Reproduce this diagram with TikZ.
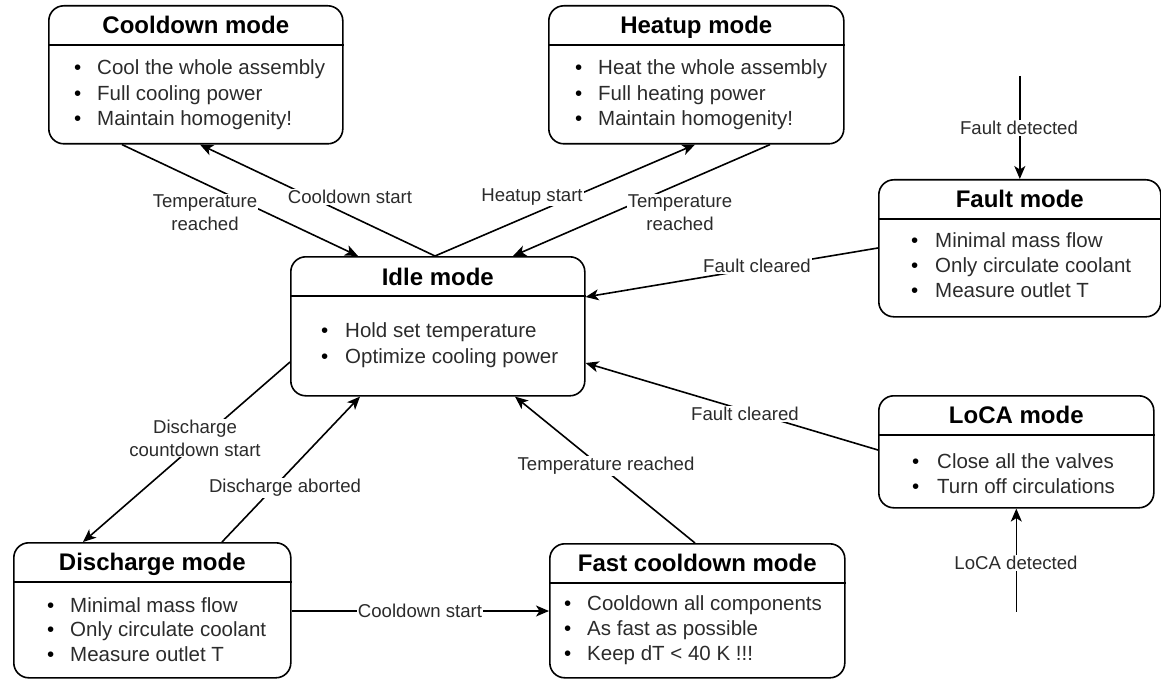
\documentclass[tikz,border=0pt]{standalone}
\usepackage{fontspec}
\setmainfont{Liberation Sans}
\usetikzlibrary{arrows.meta,calc}
\definecolor{txt}{HTML}{2B2B2B}
\begin{document}
\begin{tikzpicture}[x=1pt,y=-1pt,
  box/.style={draw, line width=1.6pt, rounded corners=15pt, inner sep=0pt, anchor=north west},
  hline/.style={line width=1.6pt},
  ttl/.style={anchor=base, inner sep=0pt, font=\fontsize{24pt}{28pt}\selectfont\bfseries},
  item/.style={anchor=base west, inner sep=0pt, text=txt, font=\fontsize{20.5pt}{24pt}\selectfont},
  lbl/.style={fill=white, inner sep=1pt, text=txt, align=center, font=\fontsize{18.6pt}{23pt}\selectfont},
  arr/.style={line width=1.6pt, -{Stealth[length=13pt,width=11pt,inset=3.5pt]}}]
\useasboundingbox (0,0) rectangle (1161,679);

% ---------- boxes ----------
\node[box, minimum width=294pt, minimum height=138pt] (cool) at (48,5) {};
\node[box, minimum width=295pt, minimum height=138pt] (heat) at (548,5) {};
\node[box, minimum width=294pt, minimum height=139pt] (idle) at (290,256) {};
\node[box, minimum width=282pt, minimum height=137pt] (fault) at (878,179) {};
\node[box, minimum width=275pt, minimum height=112pt] (loca) at (878,395) {};
\node[box, minimum width=277pt, minimum height=135pt] (disch) at (13,542) {};
\node[box, minimum width=295pt, minimum height=134pt] (fast) at (549,543) {};

\foreach \b in {cool,heat,idle,fault,loca,disch,fast}
  \draw[hline] ($(\b.north west)+(0,40)$) -- ($(\b.north east)+(0,40)$);

% ---------- titles ----------
\node[ttl] (cool-t) at ($(cool.north)+(0,28.5)$) {Cooldown mode};
\node[ttl] (heat-t) at ($(heat.north)+(0,28.5)$) {Heatup mode};
\node[ttl] (idle-t) at ($(idle.north)+(0,29)$) {Idle mode};
\node[ttl] (fault-t) at ($(fault.north)+(0,28.5)$) {Fault mode};
\node[ttl] (loca-t) at ($(loca.north)+(0,28.5)$) {LoCA mode};
\node[ttl] (disch-t) at ($(disch.north)+(0,28.5)$) {Discharge mode};
\node[ttl] (fast-t) at ($(fast.north)+(0,28)$) {Fast cooldown mode};

% ---------- bullet lists ----------
\foreach \s [count=\i] in {Cool the whole assembly, Full cooling power, Maintain homogenity!}
  \node[item] (cool-\i) at ($(cool.north west)+(49,{70+25.5*(\i-1)})$) {\llap{\textcolor{black}{•}\hspace{16pt}}\s};
\foreach \s [count=\i] in {Heat the whole assembly, Full heating power, Maintain homogenity!}
  \node[item] (heat-\i) at ($(heat.north west)+(50,{70+25.5*(\i-1)})$) {\llap{\textcolor{black}{•}\hspace{16pt}}\s};
\foreach \s [count=\i] in {Hold set temperature, Optimize cooling power}
  \node[item] (idle-\i) at ($(idle.north west)+(55,{81+26*(\i-1)})$) {\llap{\textcolor{black}{•}\hspace{17pt}}\s};
\foreach \s [count=\i] in {Minimal mass flow, Only circulate coolant, Measure outlet T}
  \node[item] (fault-\i) at ($(fault.north west)+(57,{68+25*(\i-1)})$) {\llap{\textcolor{black}{•}\hspace{17pt}}\s};
\foreach \s [count=\i] in {Close all the valves, Turn off circulations}
  \node[item] (loca-\i) at ($(loca.north west)+(59,{73+25*(\i-1)})$) {\llap{\textcolor{black}{•}\hspace{18pt}}\s};
\foreach \s [count=\i] in {Minimal mass flow, Only circulate coolant, Measure outlet T}
  \node[item] (disch-\i) at ($(disch.north west)+(57,{70+24.5*(\i-1)})$) {\llap{\textcolor{black}{•}\hspace{16pt}}\s};
\foreach \s [count=\i] in {Cooldown all components, As fast as possible, Keep dT < 40 K !!!}
  \node[item] (fast-\i) at ($(fast.north west)+(38,{67+25*(\i-1)})$) {\llap{\textcolor{black}{•}\hspace{16pt}}\s};

% ---------- free ends ----------
\coordinate (fd) at ($(fault.north)+(0,-103)$);
\coordinate (ld) at ($(loca.south)+(0,103)$);

% ---------- connectors ----------
\draw[arr] ($(cool.south west)+(74,0)$) -- ($(idle.north west)+(68,0)$);
\draw[arr] ($(idle.north west)+(145,0)$) -- ($(cool.south west)+(152,0)$);
\draw[arr] ($(idle.north west)+(145,0)$) -- ($(heat.south west)+(147,0)$);
\draw[arr] ($(heat.south west)+(222,0)$) -- ($(idle.north west)+(223,0)$);
\draw[arr] ($(fault.north west)+(0,69)$) -- ($(idle.north east)+(0,41)$);
\draw[arr] (fd) -- (fault.north);
\draw[arr] ($(loca.north west)+(0,55)$) -- ($(idle.north east)+(0,107)$);
\draw[arr] (ld) -- (loca.south);
\draw[arr] ($(idle.north west)+(0,106)$) -- ($(disch.north west)+(70,0)$);
\draw[arr] ($(disch.north west)+(209,0)$) -- ($(idle.south west)+(70,0)$);
\draw[arr] ($(disch.north east)+(0,69)$) -- ($(fast.north west)+(0,68)$);
\draw[arr] ($(fast.north west)+(146,0)$) -- ($(idle.south west)+(225,0)$);

% ---------- labels ----------
\node[lbl] (l1) at (205,213) {Temperature\\reached};
\node[lbl] (l2) at (350,197) {Cooldown start};
\node[lbl] (l3) at (532,197) {Heatup start};
\node[lbl] (l4) at (680,213) {Temperature\\reached};
\node[lbl] (l5) at (757,266) {Fault cleared};
\node[lbl] (l6) at (1019,128) {Fault detected};
\node[lbl] (l7) at (745,414) {Fault cleared};
\node[lbl] (l8) at (1016,563) {LoCA detected};
\node[lbl] (l9) at (195,438) {Discharge\\countdown start};
\node[lbl] (l10) at (285,488) {Discharge aborted};
\node[lbl] (l11) at (420,611) {Cooldown start};
\node[lbl] (l12) at (606,466) {Temperature reached};
\end{tikzpicture}
\end{document}
